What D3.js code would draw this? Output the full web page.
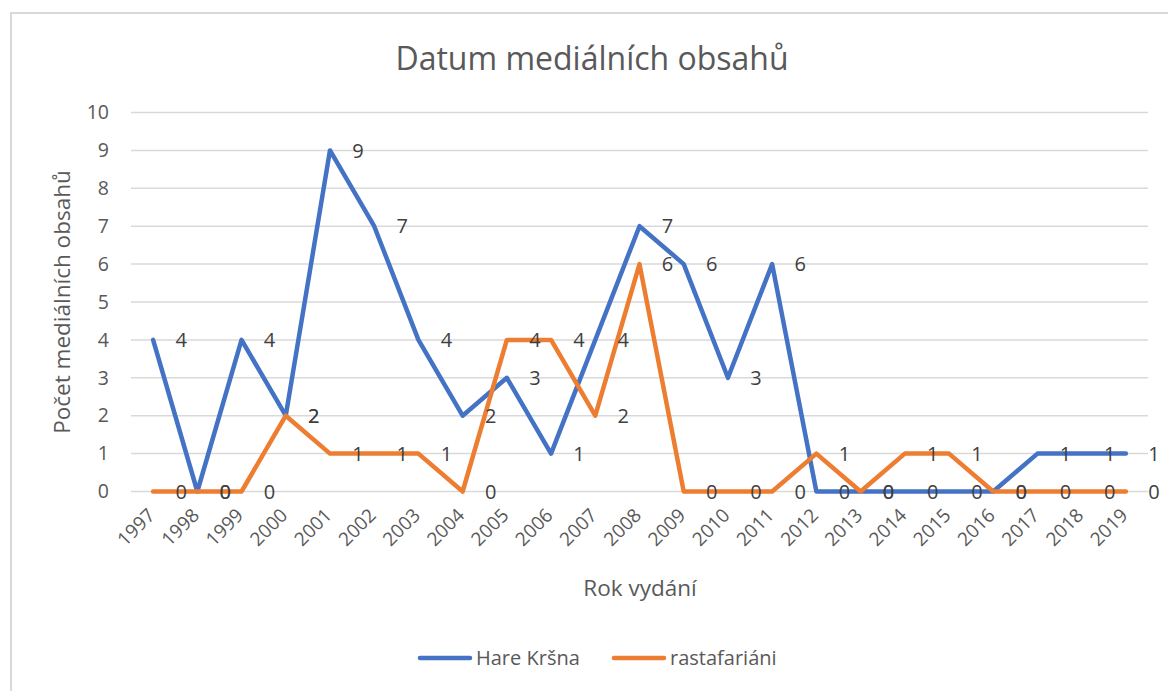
<!DOCTYPE html>
<html>
<head>
<meta charset="utf-8">
<script src="https://cdn.jsdelivr.net/npm/d3@7"></script>
<style>
  body { margin: 0; background: #fff; }
  text { font-family: "Open Sans", sans-serif; }
</style>
</head>
<body>
<svg id="chart" width="1168" height="691"></svg>
<script>
// data
const years = ["1997","1998","1999","2000","2001","2002","2003","2004","2005","2006","2007","2008",
  "2009","2010","2011","2012","2013","2014","2015","2016","2017","2018","2019"];
const hareKrsna = [4,0,4,2,9,7,4,2,3,1,4,7,6,3,6,0,0,0,0,0,1,1,1];
const rastafariani = [0,0,0,2,1,1,1,0,4,4,2,6,0,0,0,1,0,1,1,0,0,0,0];
const yTicks = [0,1,2,3,4,5,6,7,8,9,10];

const series = [
  {name: "Hare Kršna", values: hareKrsna, color: "#4472C4"},
  {name: "rastafariáni", values: rastafariani, color: "#ED7D31"}
];

const svg = d3.select("#chart");

// outer chart frame
svg.append("rect")
  .attr("x", 11).attr("y", 13)
  .attr("width", 1200).attr("height", 720)
  .attr("fill", "none")
  .attr("stroke", "#d9d9d9")
  .attr("stroke-width", 2);

// plot area edges
const plot = {left: 131, right: 1148, top: 112.5, bottom: 491.5};

const x = d3.scaleBand().domain(years).range([plot.left, plot.right]);
const y = d3.scaleLinear().domain([0, 10]).range([plot.bottom, plot.top]);

// gridlines
svg.append("g")
  .selectAll("line")
  .data(yTicks)
  .join("line")
    .attr("x1", plot.left).attr("x2", plot.right)
    .attr("y1", d => y(d)).attr("y2", d => y(d))
    .attr("stroke", "#d9d9d9")
    .attr("stroke-width", 1.5);

// y axis labels
const yAxis = d3.axisLeft(y).tickValues(yTicks).tickSize(0).tickPadding(0);
const yG = svg.append("g")
  .attr("transform", `translate(109,0)`)
  .call(yAxis);
yG.select(".domain").remove();
yG.selectAll("text")
  .attr("font-size", "19.5px")
  .attr("fill", "#595959")
  .attr("font-family", "Open Sans");

// x axis labels, rotated
const xAxis = d3.axisBottom(x).tickSize(0).tickPadding(0);
const xG = svg.append("g")
  .attr("transform", `translate(0,${plot.bottom})`)
  .call(xAxis);
xG.select(".domain").remove();
xG.selectAll("text")
  .attr("font-size", "19px")
  .attr("fill", "#595959")
  .attr("font-family", "Open Sans")
  .attr("text-anchor", "end")
  .attr("dy", null)
  .attr("y", 0)
  .attr("transform", "translate(3,25) rotate(-45)");

// lines
const line = d3.line()
  .x((d, i) => x(years[i]) + x.bandwidth() / 2)
  .y(d => y(d));

svg.append("g")
  .selectAll("path")
  .data(series)
  .join("path")
    .attr("d", d => line(d.values))
    .attr("fill", "none")
    .attr("stroke", d => d.color)
    .attr("stroke-width", 4.5)
    .attr("stroke-linejoin", "round")
    .attr("stroke-linecap", "round");

// data labels to the right of each point
series.forEach(s => {
  svg.append("g")
    .selectAll("text")
    .data(s.values)
    .join("text")
      .attr("x", (d, i) => x(years[i]) + x.bandwidth() / 2 + 28)
      .attr("y", d => y(d))
      .attr("dy", "0.36em")
      .attr("text-anchor", "middle")
      .attr("font-size", "20px")
      .attr("fill", "#404040")
      .text(d => d);
});

// title
svg.append("text")
  .attr("x", 592).attr("y", 70)
  .attr("text-anchor", "middle")
  .attr("font-size", "32px")
  .attr("fill", "#595959")
  .text("Datum mediálních obsahů");

// axis titles
svg.append("text")
  .attr("transform", "translate(70,302) rotate(-90)")
  .attr("text-anchor", "middle")
  .attr("font-size", "22.5px")
  .attr("fill", "#595959")
  .text("Počet mediálních obsahů");

svg.append("text")
  .attr("x", 640).attr("y", 596)
  .attr("text-anchor", "middle")
  .attr("font-size", "22.5px")
  .attr("fill", "#595959")
  .text("Rok vydání");

// legend
const legendPos = [418, 612];
const lg = svg.append("g")
  .selectAll("g")
  .data(series)
  .join("g")
    .attr("transform", (d, i) => `translate(${legendPos[i]},658)`);
lg.append("line")
  .attr("x1", 2).attr("x2", 52)
  .attr("stroke", d => d.color)
  .attr("stroke-width", 4.5)
  .attr("stroke-linecap", "round");
lg.append("text")
  .attr("x", 58).attr("dy", "0.35em")
  .attr("font-size", "20px")
  .attr("fill", "#595959")
  .text(d => d.name);
</script>
</body>
</html>
